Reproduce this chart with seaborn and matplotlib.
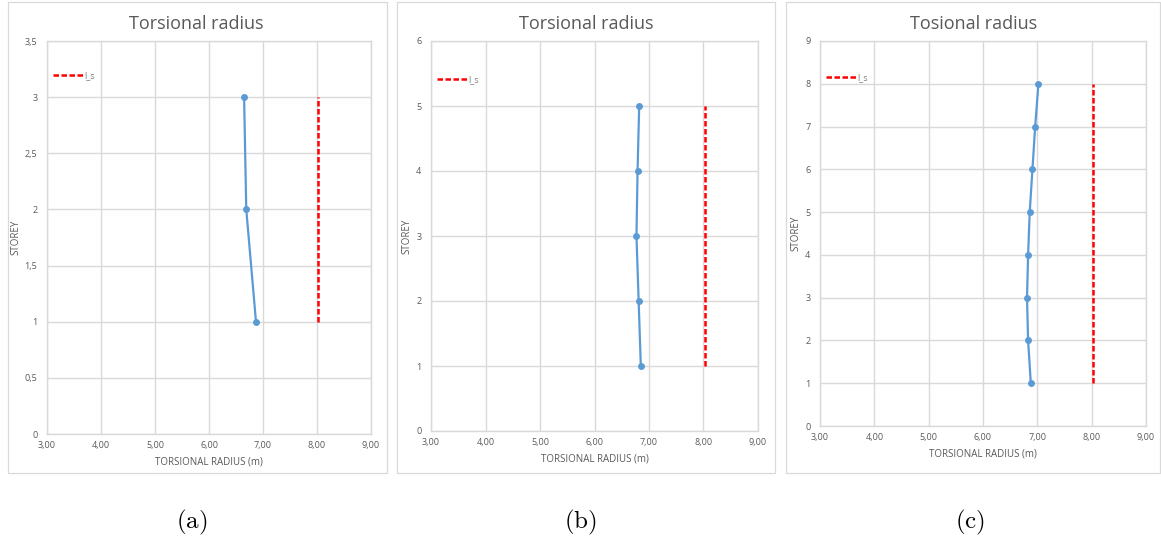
import numpy as np
import pandas as pd
import matplotlib
matplotlib.use("Agg")
import matplotlib.pyplot as plt
from matplotlib.patches import Rectangle
from matplotlib.ticker import FuncFormatter, MultipleLocator
import seaborn as sns

# data
storey_a = [1, 2, 3]
radius_a = [6.87, 6.69, 6.65]
storey_b = [1, 2, 3, 4, 5]
radius_b = [6.85, 6.81, 6.77, 6.79, 6.82]
storey_c = [1, 2, 3, 4, 5, 6, 7, 8]
radius_c = [6.88, 6.83, 6.81, 6.83, 6.86, 6.91, 6.96, 7.02]
l_s = 8.02

titles = ["Torsional radius", "Torsional radius", "Tosional radius"]
captions = ["(a)", "(b)", "(c)"]
y_max = [3.5, 6, 9]
y_step = [0.5, 1, 1]

sns.set_theme(style="white")
plt.rcParams['font.family'] = ['Open Sans', 'DejaVu Sans']
plt.rcParams['mathtext.fontset'] = 'cm'

W, H = 1161, 545
fig = plt.figure(figsize=(W / 100, H / 100), dpi=100)

# pixel layouts: axes box (x0, x1, y0, y1), frame box, legend y, ylabel x
ax_px = [(47, 371, 41, 434), (431, 758, 41, 431), (820, 1146, 41, 426)]
frame_px = [(8, 387, 2, 473), (397, 775, 2, 473), (786, 1160, 2, 473)]
leg_y = [0.913, 0.90, 0.906]
ylab_x = [21, 412, 801]
title_x = [196, 586, 974]
caption_x = [192, 580, 970]

grey_txt = "#595959"
grid_col = "#d9d9d9"
blue = "#5b9bd5"

panels = [(storey_a, radius_a), (storey_b, radius_b), (storey_c, radius_c)]


def fmt_comma(dec):
    def f(v, pos):
        if dec:
            return "{:.2f}".format(v).replace(".", ",")
        return "{:g}".format(v).replace(".", ",")
    return FuncFormatter(f)


for i, (storey, radius) in enumerate(panels):
    x0, x1, y0, y1 = ax_px[i]
    ax = fig.add_axes([x0 / W, (H - y1) / H, (x1 - x0) / W, (y1 - y0) / H])

    df = pd.DataFrame({"radius": radius, "storey": storey})
    sns.lineplot(data=df, x="radius", y="storey", sort=False, estimator=None,
                 color=blue, linewidth=1.6, marker="o", markersize=5,
                 markeredgewidth=0, ax=ax)

    ls_df = pd.DataFrame({"radius": [l_s, l_s], "storey": [storey[0], storey[-1]]})
    sns.lineplot(data=ls_df, x="radius", y="storey", sort=False, estimator=None,
                 color="red", linewidth=1.8, linestyle=(0, (2.2, 1.0)),
                 label="l_s", ax=ax)

    ax.set_xlim(3, 9)
    ax.set_ylim(0, y_max[i])
    ax.xaxis.set_major_locator(MultipleLocator(1))
    ax.yaxis.set_major_locator(MultipleLocator(y_step[i]))
    ax.xaxis.set_major_formatter(fmt_comma(True))
    ax.yaxis.set_major_formatter(fmt_comma(False))
    ax.grid(True, color=grid_col, linewidth=1.0)
    for sp in ax.spines.values():
        sp.set_color(grid_col)
        sp.set_linewidth(1.0)
    ax.tick_params(axis="x", labelsize=6.5, colors=grey_txt, length=0, pad=5)
    ax.tick_params(axis="y", labelsize=6.5, colors=grey_txt, length=0, pad=7)
    ax.set_xlabel("TORSIONAL RADIUS (m)", fontsize=7, color=grey_txt, labelpad=5)
    ax.set_ylabel("STOREY", fontsize=7, color=grey_txt)
    ax.yaxis.set_label_coords((ylab_x[i] - x0) / (x1 - x0), 0.5)

    leg = ax.legend(loc="center left", bbox_to_anchor=(0.018, leg_y[i]),
                    frameon=False, fontsize=6.5, handlelength=3.4,
                    handletextpad=0.1, borderpad=0, borderaxespad=0)
    for t in leg.get_texts():
        t.set_color("#7f7f7f")

    fx0, fx1, fy0, fy1 = frame_px[i]
    fig.patches.append(Rectangle((fx0 / W, (H - fy1) / H), (fx1 - fx0) / W,
                                 (fy1 - fy0) / H, transform=fig.transFigure,
                                 fill=False, edgecolor="#d9d9d9", linewidth=0.9))

    fig.text(title_x[i] / W, (H - 24) / H, titles[i], ha="center", va="center",
             fontsize=13, color=grey_txt)
    fig.text(caption_x[i] / W, (H - 522) / H, r"$\mathrm{" + captions[i] + "}$",
             ha="center", va="center", fontsize=18, color="black")

fig.savefig("out.png", dpi=100)
